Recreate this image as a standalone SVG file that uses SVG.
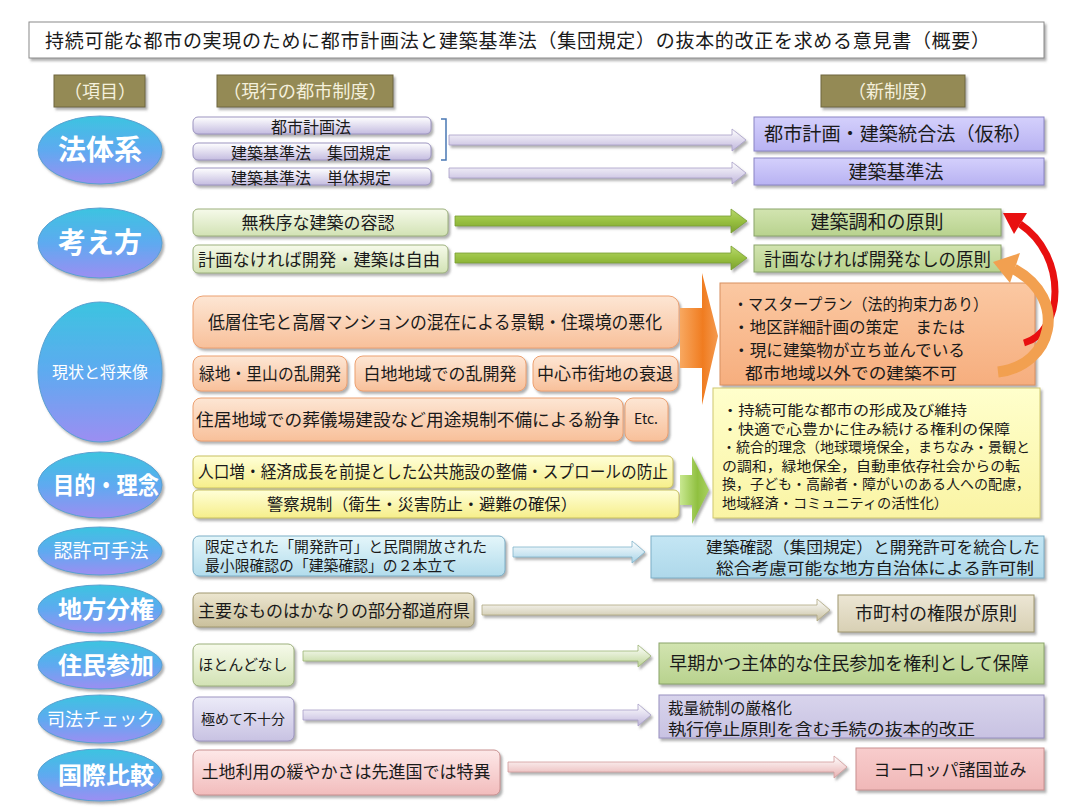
<svg xmlns="http://www.w3.org/2000/svg" width="1085" height="810" viewBox="0 0 1085 810">
<style>
.t{font-family:"Noto Sans CJK JP","Noto Sans CJK SC","DejaVu Sans",sans-serif;fill:#1a1a1a}
.c{text-anchor:middle}
.hd{fill:#f4f0dc;font-size:18px}
.el{fill:#ffffff}
.b{font-weight:bold}
.bx{filter:url(#sh)}
.olive{fill:#948a54;stroke:#6e663e;stroke-width:1}
.lav{fill:url(#gLav);stroke:#9c94c0;stroke-width:1}
.lavN{fill:url(#gLavN);stroke:#8a84c4;stroke-width:1}
.lg{fill:url(#gLg);stroke:#9cb07c;stroke-width:1}
.gN{fill:url(#gGN);stroke:#8aa46a;stroke-width:1}
.pe{fill:url(#gPe);stroke:#eca070;stroke-width:1}
.orN{fill:url(#gOrN);stroke:#d89060;stroke-width:1}
.ye{fill:url(#gYe);stroke:#c8c060;stroke-width:1}
.yeN{fill:url(#gYeN);stroke:#d0c870;stroke-width:1}
.bl{fill:url(#gBl);stroke:#7caec6;stroke-width:1}
.blN{fill:url(#gBlN);stroke:#7caec6;stroke-width:1}
.tan{fill:url(#gTan);stroke:#a09870;stroke-width:1}
.tanN{fill:url(#gTanN);stroke:#a09870;stroke-width:1}
.vi{fill:url(#gVi);stroke:#9c94c0;stroke-width:1}
.viN{fill:url(#gViN);stroke:#9890c0;stroke-width:1}
.pk{fill:url(#gPk);stroke:#c89090;stroke-width:1}
.pkN{fill:url(#gPkN);stroke:#c89090;stroke-width:1}
.ell{fill:url(#gEll);stroke:#5aa0d0;stroke-width:1;filter:url(#sh)}
</style>
<defs>
<filter id="sh" x="-10%" y="-20%" width="120%" height="150%">
<feDropShadow dx="2" dy="2.5" stdDeviation="1" flood-color="#707070" flood-opacity="0.55"/>
</filter>
<linearGradient id="gEll" x1="0" y1="0" x2="0" y2="1"><stop offset="0" stop-color="#3cc4e0"/><stop offset="0.5" stop-color="#5eaaf0"/><stop offset="1" stop-color="#9c8ef2"/></linearGradient>
<linearGradient id="gLav" x1="0" y1="0" x2="0" y2="1"><stop offset="0" stop-color="#ffffff"/><stop offset="1" stop-color="#c4bce0"/></linearGradient>
<linearGradient id="gLavN" x1="0" y1="0" x2="0" y2="1"><stop offset="0" stop-color="#d4d0fc"/><stop offset="1" stop-color="#b8b2f2"/></linearGradient>
<linearGradient id="gLg" x1="0" y1="0" x2="0" y2="1"><stop offset="0" stop-color="#f6faea"/><stop offset="1" stop-color="#d2e2b4"/></linearGradient>
<linearGradient id="gGN" x1="0" y1="0" x2="0" y2="1"><stop offset="0" stop-color="#d2e4b0"/><stop offset="1" stop-color="#b8d28e"/></linearGradient>
<linearGradient id="gPe" x1="0" y1="0" x2="0" y2="1"><stop offset="0" stop-color="#fde6d4"/><stop offset="1" stop-color="#f8c09a"/></linearGradient>
<linearGradient id="gOrN" x1="0" y1="0" x2="0" y2="1"><stop offset="0" stop-color="#fbc8a2"/><stop offset="1" stop-color="#f6ae7e"/></linearGradient>
<linearGradient id="gYe" x1="0" y1="0" x2="0" y2="1"><stop offset="0" stop-color="#ffffd8"/><stop offset="1" stop-color="#f6ee8a"/></linearGradient>
<linearGradient id="gYeN" x1="0" y1="0" x2="0" y2="1"><stop offset="0" stop-color="#ffffcc"/><stop offset="1" stop-color="#faf4a4"/></linearGradient>
<linearGradient id="gBl" x1="0" y1="0" x2="0" y2="1"><stop offset="0" stop-color="#e4f6fa"/><stop offset="1" stop-color="#b2dcec"/></linearGradient>
<linearGradient id="gBlN" x1="0" y1="0" x2="0" y2="1"><stop offset="0" stop-color="#c4e6f4"/><stop offset="1" stop-color="#aed8ea"/></linearGradient>
<linearGradient id="gTan" x1="0" y1="0" x2="0" y2="1"><stop offset="0" stop-color="#ece6d0"/><stop offset="1" stop-color="#cac09c"/></linearGradient>
<linearGradient id="gTanN" x1="0" y1="0" x2="0" y2="1"><stop offset="0" stop-color="#ece6d4"/><stop offset="1" stop-color="#d8d0b4"/></linearGradient>
<linearGradient id="gVi" x1="0" y1="0" x2="0" y2="1"><stop offset="0" stop-color="#ecebf8"/><stop offset="1" stop-color="#c8c2e2"/></linearGradient>
<linearGradient id="gViN" x1="0" y1="0" x2="0" y2="1"><stop offset="0" stop-color="#d8d4ec"/><stop offset="1" stop-color="#c8c2e2"/></linearGradient>
<linearGradient id="gPk" x1="0" y1="0" x2="0" y2="1"><stop offset="0" stop-color="#fde8e8"/><stop offset="1" stop-color="#f2bcbc"/></linearGradient>
<linearGradient id="gPkN" x1="0" y1="0" x2="0" y2="1"><stop offset="0" stop-color="#f8cccc"/><stop offset="1" stop-color="#f0b8b8"/></linearGradient>
<linearGradient id="aLav" x1="0" y1="0" x2="0" y2="1"><stop offset="0" stop-color="#ffffff"/><stop offset="1" stop-color="#c0b6dc"/></linearGradient>
<linearGradient id="aGrn" x1="0" y1="0" x2="0" y2="1"><stop offset="0" stop-color="#b8d870"/><stop offset="0.5" stop-color="#98c040"/><stop offset="1" stop-color="#7ca030"/></linearGradient>
<linearGradient id="aBl" x1="0" y1="0" x2="0" y2="1"><stop offset="0" stop-color="#ffffff"/><stop offset="1" stop-color="#a8d4e8"/></linearGradient>
<linearGradient id="aTan" x1="0" y1="0" x2="0" y2="1"><stop offset="0" stop-color="#ffffff"/><stop offset="1" stop-color="#c8c0a0"/></linearGradient>
<linearGradient id="aLg" x1="0" y1="0" x2="0" y2="1"><stop offset="0" stop-color="#ffffff"/><stop offset="1" stop-color="#bcd494"/></linearGradient>
<linearGradient id="aPk" x1="0" y1="0" x2="0" y2="1"><stop offset="0" stop-color="#ffffff"/><stop offset="1" stop-color="#e8b0b0"/></linearGradient>
<linearGradient id="aOr" x1="0" y1="0" x2="1" y2="0"><stop offset="0" stop-color="#f8a860"/><stop offset="0.6" stop-color="#f07c20"/><stop offset="1" stop-color="#f49a50"/></linearGradient>
<linearGradient id="aGb" x1="0" y1="0" x2="1" y2="0"><stop offset="0" stop-color="#c8e890"/><stop offset="0.6" stop-color="#90c040"/><stop offset="1" stop-color="#a8d060"/></linearGradient>
</defs>

<rect width="1085" height="810" fill="#ffffff"/>

<g id="title">
<rect x="29" y="22" width="1015" height="36" fill="#ffffff" stroke="#8a8a8a" stroke-width="1" class="bx"/>
<text class="t" x="45" y="48" font-size="19" textLength="945" lengthAdjust="spacing">持続可能な都市の実現のために都市計画法と建築基準法（集団規定）の抜本的改正を求める意見書（概要）</text>
</g>

<g id="header-item"><rect x="54" y="75" width="91" height="32" class="olive bx"/><text class="t hd c" x="100" y="98">（項目）</text></g>
<g id="header-current"><rect x="217" y="75" width="176" height="32" class="olive bx"/><text class="t hd c" x="305" y="98" textLength="164" lengthAdjust="spacingAndGlyphs">（現行の都市制度）</text></g>
<g id="header-new"><rect x="821" y="75" width="144" height="32" class="olive bx"/><text class="t hd c" x="893" y="98">（新制度）</text></g>

<!-- category ellipses -->
<g id="cat-houtaikei"><ellipse cx="100" cy="150" rx="62" ry="34" class="ell"/><text class="t el b c" x="100" y="160" font-size="28">法体系</text></g>
<g id="cat-kangaekata"><ellipse cx="100" cy="243" rx="62" ry="35" class="ell"/><text class="t el b c" x="100" y="253" font-size="28">考え方</text></g>
<g id="cat-genjou"><ellipse cx="100" cy="372" rx="62" ry="70" class="ell"/><text class="t el c" x="100" y="378" font-size="16">現状と将来像</text></g>
<g id="cat-mokuteki"><ellipse cx="100" cy="485" rx="62" ry="33" class="ell"/><text class="t el b c" x="106" y="494" font-size="24" textLength="106" lengthAdjust="spacingAndGlyphs">目的・理念</text></g>
<g id="cat-ninkyoka"><ellipse cx="100" cy="551" rx="62" ry="24" class="ell"/><text class="t el c" x="101" y="558" font-size="19">認許可手法</text></g>
<g id="cat-chihou"><ellipse cx="100" cy="609" rx="62" ry="24" class="ell"/><text class="t el b c" x="106" y="618" font-size="24">地方分権</text></g>
<g id="cat-juumin"><ellipse cx="100" cy="665" rx="62" ry="24" class="ell"/><text class="t el b c" x="106" y="674" font-size="24">住民参加</text></g>
<g id="cat-shihou"><ellipse cx="100" cy="719" rx="62" ry="24" class="ell"/><text class="t el c" x="101" y="726" font-size="18">司法チェック</text></g>
<g id="cat-kokusai"><ellipse cx="100" cy="775" rx="62" ry="26" class="ell"/><text class="t el b c" x="106" y="784" font-size="24">国際比較</text></g>

<!-- current system nodes -->
<g id="cur-toshikeikaku"><rect x="193" y="117" width="238" height="17" rx="5" class="lav bx"/><text class="t c" x="311" y="133" font-size="16">都市計画法</text></g>
<g id="cur-shuudan"><rect x="193" y="143" width="238" height="17" rx="5" class="lav bx"/><text class="t c" x="311" y="159" font-size="16">建築基準法　集団規定</text></g>
<g id="cur-tantai"><rect x="193" y="168" width="238" height="17" rx="5" class="lav bx"/><text class="t c" x="311" y="184" font-size="16">建築基準法　単体規定</text></g>

<g id="cur-muchitsujo"><rect x="193" y="209" width="255" height="27" rx="5" class="lg bx"/><text class="t c" x="318" y="229" font-size="17">無秩序な建築の容認</text></g>
<g id="cur-keikakunakereba"><rect x="193" y="245" width="255" height="28" rx="5" class="lg bx"/><text class="t" x="198" y="266" font-size="17" textLength="242" lengthAdjust="spacingAndGlyphs">計画なければ開発・建築は自由</text></g>

<g id="cur-konzai"><rect x="193" y="296" width="486" height="52" rx="10" class="pe bx"/><text class="t" x="208" y="329" font-size="18" textLength="454" lengthAdjust="spacingAndGlyphs">低層住宅と高層マンションの混在による景観・住環境の悪化</text></g>
<g id="cur-ryokuchi"><rect x="193" y="356" width="154" height="35" rx="8" class="pe bx"/><text class="t c" x="270" y="380" font-size="17" textLength="142" lengthAdjust="spacingAndGlyphs">緑地・里山の乱開発</text></g>
<g id="cur-shirochi"><rect x="355" y="356" width="171" height="35" rx="8" class="pe bx"/><text class="t c" x="440" y="380" font-size="17">白地地域での乱開発</text></g>
<g id="cur-chuushin"><rect x="533" y="356" width="145" height="35" rx="8" class="pe bx"/><text class="t c" x="605" y="380" font-size="17">中心市街地の衰退</text></g>
<g id="cur-sougijou"><rect x="193" y="398" width="430" height="43" rx="8" class="pe bx"/><text class="t" x="196" y="426" font-size="17" textLength="424" lengthAdjust="spacingAndGlyphs">住居地域での葬儀場建設など用途規制不備による紛争</text></g>
<g id="cur-etc"><rect x="625" y="398" width="43" height="43" rx="8" class="pe bx"/><text class="t c" x="646" y="424" font-size="14">Etc.</text></g>

<g id="cur-jinkou"><rect x="193" y="456" width="480" height="32" rx="5" class="ye bx"/><text class="t" x="198" y="478" font-size="17" textLength="470" lengthAdjust="spacingAndGlyphs">人口増・経済成長を前提とした公共施設の整備・スプロールの防止</text></g>
<g id="cur-keisatsu"><rect x="193" y="490" width="486" height="28" rx="5" class="ye bx"/><text class="t" x="267" y="510" font-size="16" textLength="310" lengthAdjust="spacingAndGlyphs">警察規制（衛生・災害防止・避難の確保）</text></g>

<g id="cur-kaihatsukyoka"><rect x="193" y="536" width="312" height="40" rx="6" class="bl bx"/><text class="t" x="205" y="552" font-size="15" textLength="282" lengthAdjust="spacingAndGlyphs">限定された「開発許可」と民間開放された</text><text class="t" x="205" y="571" font-size="15" textLength="252" lengthAdjust="spacingAndGlyphs">最小限確認の「建築確認」の２本立て</text></g>

<g id="cur-todoufuken"><rect x="193" y="593" width="281" height="34" rx="6" class="tan bx"/><text class="t c" x="334" y="617" font-size="17">主要なものはかなりの部分都道府県</text></g>
<g id="cur-hotondo"><rect x="193" y="644" width="101" height="42" rx="6" class="lg bx"/><text class="t c" x="243" y="670" font-size="15">ほとんどなし</text></g>
<g id="cur-kiwamete"><rect x="193" y="697" width="101" height="44" rx="6" class="vi bx"/><text class="t c" x="243" y="724" font-size="14">極めて不十分</text></g>
<g id="cur-tochiriyou"><rect x="193" y="750" width="307" height="45" rx="6" class="pk bx"/><text class="t c" x="346" y="778" font-size="17">土地利用の緩やかさは先進国では特異</text></g>

<!-- new system nodes -->
<g id="new-tougouhou"><rect x="754" y="117" width="290" height="34" class="lavN bx"/><text class="t c" x="898" y="141" font-size="19" textLength="268" lengthAdjust="spacingAndGlyphs">都市計画・建築統合法（仮称）</text></g>
<g id="new-kenchikukijun"><rect x="754" y="158" width="290" height="27" class="lavN bx"/><text class="t c" x="896" y="179" font-size="19">建築基準法</text></g>
<g id="new-chouwa"><rect x="754" y="209" width="247" height="27" class="gN bx"/><text class="t c" x="877" y="229" font-size="19">建築調和の原則</text></g>
<g id="new-kaihatsunashi"><rect x="754" y="245" width="247" height="27" class="gN bx"/><text class="t" x="764" y="266" font-size="18" textLength="227" lengthAdjust="spacingAndGlyphs">計画なければ開発なしの原則</text></g>
<g id="new-masterplan"><rect x="720" y="283" width="315" height="102" class="orN bx"/>
<text class="t" x="733" y="310" font-size="16" textLength="255" lengthAdjust="spacingAndGlyphs">・マスタープラン（法的拘束力あり）</text>
<text class="t" x="733" y="333" font-size="16" textLength="232" lengthAdjust="spacingAndGlyphs">・地区詳細計画の策定　または</text>
<text class="t" x="733" y="356" font-size="16" textLength="232" lengthAdjust="spacingAndGlyphs">・現に建築物が立ち並んでいる</text>
<text class="t" x="745" y="379" font-size="16" textLength="212" lengthAdjust="spacingAndGlyphs">都市地域以外での建築不可</text></g>
<g id="new-rinen"><rect x="713" y="388" width="327" height="130" class="yeN bx"/>
<text class="t" x="722" y="415" font-size="14" textLength="245" lengthAdjust="spacingAndGlyphs">・持続可能な都市の形成及び維持</text>
<text class="t" x="722" y="433.6" font-size="14" textLength="288" lengthAdjust="spacingAndGlyphs">・快適で心豊かに住み続ける権利の保障</text>
<text class="t" x="722" y="452.2" font-size="14" textLength="308" lengthAdjust="spacingAndGlyphs">・統合的理念（地球環境保全，まちなみ・景観と</text>
<text class="t" x="722" y="470.8" font-size="14" textLength="298" lengthAdjust="spacingAndGlyphs">の調和，緑地保全，自動車依存社会からの転</text>
<text class="t" x="722" y="489.4" font-size="14" textLength="308" lengthAdjust="spacingAndGlyphs">換，子ども・高齢者・障がいのある人への配慮，</text>
<text class="t" x="722" y="508" font-size="14" textLength="226" lengthAdjust="spacingAndGlyphs">地域経済・コミュニティの活性化）</text></g>
<g id="new-kyokasei"><rect x="651" y="536" width="393" height="42" class="blN bx"/><text class="t" x="706" y="553" font-size="15.5" textLength="334" lengthAdjust="spacingAndGlyphs">建築確認（集団規定）と開発許可を統合した</text><text class="t" x="716" y="574" font-size="15.5" textLength="318" lengthAdjust="spacingAndGlyphs">総合考慮可能な地方自治体による許可制</text></g>
<g id="new-shichouson"><rect x="838" y="595" width="196" height="37" class="tanN bx"/><text class="t c" x="936" y="620" font-size="18">市町村の権限が原則</text></g>
<g id="new-souki"><rect x="659" y="643" width="385" height="41" class="gN bx"/><text class="t c" x="849" y="670" font-size="18">早期かつ主体的な住民参加を権利として保障</text></g>
<g id="new-sairyou"><rect x="659" y="695" width="385" height="43" class="viN bx"/><text class="t" x="668" y="714" font-size="15.5">裁量統制の厳格化</text><text class="t" x="668" y="735" font-size="15.5" textLength="307" lengthAdjust="spacingAndGlyphs">執行停止原則を含む手続の抜本的改正</text></g>
<g id="new-europe"><rect x="856" y="748" width="188" height="42" class="pkN bx"/><text class="t c" x="950" y="776" font-size="17">ヨーロッパ諸国並み</text></g>

<!-- connectors -->
<g id="connectors">
<path d="M441,119 L446,119 L446,160 L441,160" fill="none" stroke="#4a78b4" stroke-width="1.5"/>
<path d="M449,135 L732,135 L732,129 L746,140 L732,151 L732,145 L449,145 Z" fill="url(#aLav)" stroke="#a8a0c8" stroke-width="0.8" class="bx"/>
<path d="M449,168 L732,168 L732,162 L746,173 L732,184 L732,178 L449,178 Z" fill="url(#aLav)" stroke="#a8a0c8" stroke-width="0.8" class="bx"/>
<path d="M455,216 L731,216 L731,209 L747,221 L731,233 L731,226 L455,226 Z" fill="url(#aGrn)" stroke="#78a030" stroke-width="0.8" class="bx"/>
<path d="M455,253 L731,253 L731,246 L747,258 L731,270 L731,263 L455,263 Z" fill="url(#aGrn)" stroke="#78a030" stroke-width="0.8" class="bx"/>
<path d="M680,308 L702,308 L702,273 L718,336 L702,405 L702,368 L680,368 Z" fill="url(#aOr)"/>
<path d="M680,475 L692,475 L692,456 L709,490 L692,524 L692,505 L680,505 Z" fill="url(#aGb)" class="bx"/>
<path d="M513,547 L632,547 L632,541 L645,552 L632,563 L632,557 L513,557 Z" fill="url(#aBl)" stroke="#80b4cc" stroke-width="0.8" class="bx"/>
<path d="M482,605 L817,605 L817,599 L830,610 L817,621 L817,615 L482,615 Z" fill="url(#aTan)" stroke="#b0a880" stroke-width="0.8" class="bx"/>
<path d="M303,651 L638,651 L638,645 L651,656 L638,667 L638,661 L303,661 Z" fill="url(#aLg)" stroke="#9cb474" stroke-width="0.8" class="bx"/>
<path d="M303,710 L638,710 L638,704 L651,715 L638,726 L638,720 L303,720 Z" fill="url(#aLav)" stroke="#a8a0c8" stroke-width="0.8" class="bx"/>
<path d="M508,762 L834,762 L834,756 L847,767 L834,778 L834,772 L508,772 Z" fill="url(#aPk)" stroke="#d09c9c" stroke-width="0.8" class="bx"/>
<path d="M1024,343 C1064,332 1068,256 1020,224" fill="none" stroke="#e81010" stroke-width="7"/>
<path d="M1003,213 L1027,213 L1014,234 Z" fill="#e81010"/>
<path d="M998,372 C1052,366 1070,300 1014,269" fill="none" stroke="#f2a050" stroke-width="11"/>
<path d="M993,262 L1020,253 L1010,283 Z" fill="#f2a050"/>
</g>
</svg>
